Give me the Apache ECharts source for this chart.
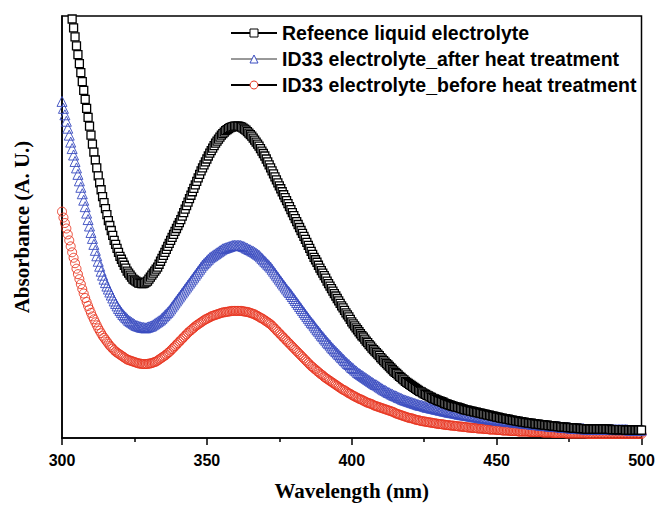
<!DOCTYPE html>
<html>
<head>
<meta charset="utf-8">
<script src="https://cdn.jsdelivr.net/npm/echarts@6/dist/echarts.min.js"></script>
<style>
  html, body { margin: 0; padding: 0; background: #fff; }
  #chart { width: 658px; height: 506px; }
</style>
</head>
<body>
<div id="chart"></div>
<script>
// UV-Vis absorption spectra, 300–500 nm sampled every 0.5 nm (arbitrary absorbance units)
const seriesNames = [
  'Refeence liquid electrolyte',
  'ID33 electrolyte_after heat treatment',
  'ID33 electrolyte_before heat treatment'
];
const xTickLabels = [300, 350, 400, 450, 500];

const wavelengths = [];
for (let i = 0; i <= 400; i++) wavelengths.push(300 + i * 0.5);

// one row = 5 nm (10 samples)
const reference = [
  486, 477, 468, 458, 449, 440, 431, 422, 413, 404,
  395, 386, 377, 368, 359, 350, 341, 332, 323, 314,
  305, 296, 288, 280, 272, 264, 257, 250, 243, 237,
  231, 225, 219, 214, 209, 204, 199, 195, 191, 187,
  183, 180, 177, 174, 171, 168, 166, 164, 162, 160,
  159, 158, 157, 156, 156, 155.5, 155.5, 156, 157, 158,
  160, 162, 164, 166, 168, 170, 172, 175, 178, 181,
  184, 187, 190, 193, 196, 199, 202, 205, 208, 211,
  214, 217, 220, 223.5, 227, 230.5, 234, 237.5, 241, 244.5,
  248, 251.5, 255, 258.5, 262, 265.5, 269, 272, 275, 278,
  281, 284, 287, 289.5, 292, 294.5, 297, 299, 301, 303,
  305, 306.5, 308, 309.5, 310.5, 311.5, 312.5, 313, 313.5, 314,
  314, 314, 314, 313.5, 313, 312, 311, 310, 308.5, 307,
  305.5, 304, 302, 300, 298, 296, 294, 291.5, 289, 286.5,
  284, 281, 278, 275, 272, 269, 266, 263, 260, 257,
  254, 251, 248, 245, 242, 239, 236, 233, 230, 227,
  224, 221, 218, 215, 212, 209, 206, 203, 200, 197,
  194, 191, 188, 185, 182, 179.5, 177, 174, 171, 168.5,
  166, 163.5, 161, 158, 155.5, 153, 150.5, 148, 145.5, 143,
  140.5, 138, 135.5, 133, 131, 128.5, 126, 124, 122, 119.5,
  117, 115, 113, 111, 109, 107, 105, 103, 101.5, 99.5,
  97.5, 96, 94, 92.5, 90.5, 89, 87.5, 86, 84.5, 83,
  81, 79.5, 78, 76.5, 75, 73.5, 72, 70.5, 69, 67.5,
  66, 65, 63.5, 62, 61, 59.5, 58.5, 57, 56, 55,
  54, 53, 52, 51, 50, 49, 48, 47, 46.5, 45.5,
  44.5, 44, 43, 42.5, 41.5, 41, 40, 39.5, 39, 38,
  37.5, 37, 36.5, 36, 35, 34.5, 34, 33.5, 33, 32.5,
  32, 31.5, 31, 31, 30.5, 30, 29.5, 29, 28.5, 28,
  28, 27.5, 27, 27, 26.5, 26, 26, 25.5, 25, 25,
  24.5, 24, 24, 23.5, 23, 23, 22.5, 22, 22, 21.5,
  21, 21, 20.5, 20, 20, 19.5, 19.5, 19, 19, 18.5,
  18, 18, 17.5, 17.5, 17, 17, 16.5, 16.5, 16, 16,
  15.5, 15.5, 15, 15, 15, 14.5, 14.5, 14, 14, 14,
  13.5, 13.5, 13.5, 13, 13, 13, 12.5, 12.5, 12.5, 12,
  12, 12, 11.5, 11.5, 11.5, 11, 11, 11, 11, 10.5,
  10.5, 10.5, 10.5, 10, 10, 10, 10, 9.5, 9.5, 9.5,
  9.5, 9.5, 9, 9, 9, 9, 9, 9, 9, 9,
  9, 9, 9, 9, 9, 9, 9, 9, 9, 8.5,
  8.5, 8.5, 8.5, 8.5, 8.5, 8.5, 8.5, 8.5, 8.5, 8,
  8, 8, 8, 8, 8, 8, 8, 8, 8, 8,
  8
];

const afterHeat = [
  339, 332, 325.5, 319, 312, 305, 298, 291.5, 285, 278.5,
  272, 265.5, 259, 252.5, 246, 239.5, 233, 226.5, 220, 213.5,
  207, 201, 195, 189, 183.5, 178, 173, 168, 164, 160,
  156.5, 153, 150, 147, 144, 141, 138, 135.5, 133, 130.5,
  128.5, 126.5, 124.5, 123, 121.5, 120, 118.5, 117.5, 116.5, 115.5,
  114.5, 113.5, 113, 112.5, 112, 111.5, 111.5, 111, 111, 111.5,
  112, 112.5, 113, 114, 115, 116, 117, 118, 119, 120.5,
  122, 123.5, 125, 126.5, 128, 130, 132, 134, 136, 138,
  140, 142, 144, 146, 148, 150, 152, 154, 156, 158,
  160, 162, 164, 166, 168, 170, 172, 174, 175.5, 177,
  178.5, 180, 181.5, 182.5, 183.5, 184.5, 185.5, 186.5, 187.5, 188.5,
  189.5, 190.5, 191, 191.5, 192, 192.5, 193, 193.5, 194, 194,
  194, 194, 194, 194, 193.5, 193, 192.5, 191.5, 191, 190,
  189.5, 188.5, 188, 187, 186, 185, 184, 182.5, 181, 179.5,
  178, 176.5, 175, 173.5, 172, 170, 168, 166, 164, 162,
  160, 158, 156, 154, 152, 150, 148, 146.5, 144.5, 142.5,
  140.5, 138.5, 136.5, 134.5, 132.5, 130.5, 128.5, 126.5, 124.5, 122.5,
  120.5, 118.5, 116.5, 115, 113, 111, 109, 107.5, 105.5, 103.5,
  102, 100, 98.5, 96.5, 95, 93.5, 91.5, 90, 88.5, 87,
  85.5, 84, 82.5, 81, 79.5, 78, 76.5, 75, 74, 72.5,
  71, 70, 68.5, 67.5, 66, 65, 64, 63, 62, 61,
  60, 59, 58, 57, 56, 55, 54, 53.5, 52.5, 51.5,
  50.5, 49.5, 48.5, 48, 47, 46, 45.5, 44.5, 44, 43,
  42.5, 42, 41, 40.5, 40, 39, 38.5, 38, 37.5, 37,
  36.5, 36, 35.5, 35, 34.5, 34, 33.5, 33, 33, 32.5,
  32, 31.5, 31, 31, 30.5, 30, 30, 29.5, 29, 29,
  28.5, 28, 28, 27.5, 27, 27, 26.5, 26, 26, 25.5,
  25.5, 25, 25, 24.5, 24, 24, 23.5, 23.5, 23, 23,
  22.5, 22.5, 22, 22, 21.5, 21.5, 21, 21, 20.5, 20.5,
  20, 20, 20, 19.5, 19.5, 19, 19, 19, 18.5, 18.5,
  18, 18, 18, 17.5, 17.5, 17.5, 17, 17, 17, 16.5,
  16.5, 16.5, 16, 16, 16, 15.5, 15.5, 15.5, 15, 15,
  15, 14.5, 14.5, 14.5, 14, 14, 14, 13.5, 13.5, 13.5,
  13, 13, 13, 12.5, 12.5, 12.5, 12, 12, 12, 12,
  11.5, 11.5, 11.5, 11.5, 11, 11, 11, 10.5, 10.5, 10.5,
  10.5, 10, 10, 10, 10, 10, 9.5, 9.5, 9.5, 9.5,
  9.5, 9, 9, 9, 9, 9, 9, 9, 9, 9,
  9, 9, 9, 9, 9, 9, 9, 9, 9, 9,
  8.5, 8.5, 8.5, 8.5, 8.5, 8.5, 8.5, 8.5, 8.5, 8.5,
  8.5, 8, 8, 8, 8, 8, 8, 8, 8, 8,
  8
];

const beforeHeat = [
  228, 222, 216.5, 211, 205, 199, 193, 187, 181.5, 176,
  170.5, 165, 160, 155, 150, 145.5, 141, 137, 133, 129.5,
  126, 122.5, 119.5, 116.5, 113.5, 110.5, 108, 105.5, 103, 101,
  99, 97, 95, 93, 91.5, 90, 88.5, 87, 86, 85,
  84, 83, 82, 81, 80, 79, 78.5, 78, 77.5, 77,
  76.5, 76, 75.5, 75, 75, 74.5, 74.5, 74.5, 74.5, 74.5,
  75, 75, 75.5, 76, 76.5, 77, 78, 79, 80, 81,
  82, 83, 84, 85.5, 86.5, 88, 89.5, 91, 92.5, 94,
  95.5, 97, 98.5, 100, 101.5, 103, 104.5, 106, 107.5, 108.5,
  110, 111, 112.5, 113.5, 114.5, 115.5, 116.5, 117.5, 118.5, 119.5,
  120, 121, 121.5, 122.5, 123, 123.5, 124, 124.5, 125, 125.5,
  126, 126.5, 126.5, 127, 127, 127.5, 127.5, 128, 128, 128,
  128, 128, 128, 128, 128, 127.5, 127.5, 127, 127, 126.5,
  126, 125.5, 125, 124.5, 123.5, 123, 122, 121, 120.5, 119.5,
  118.5, 117.5, 116.5, 115.5, 114.5, 113, 111.5, 110, 108.5, 107,
  105.5, 104, 102.5, 101, 99.5, 98, 96.5, 95, 93.5, 92,
  90.5, 89, 87.5, 86, 84.5, 83, 81.5, 80, 78.5, 77,
  75.5, 74, 72.5, 71.5, 70, 69, 67.5, 66.5, 65, 64,
  63, 61.5, 60.5, 59.5, 58.5, 57.5, 56.5, 55.5, 54.5, 53.5,
  52.5, 51.5, 50.5, 49.5, 48.5, 48, 47, 46, 45, 44.5,
  43.5, 42.5, 42, 41, 40.5, 39.5, 39, 38.5, 37.5, 37,
  36, 35.5, 35, 34.5, 34, 33, 32.5, 32, 31.5, 31,
  30.5, 30, 29.5, 29, 28.5, 28, 27.5, 27, 26.5, 26,
  25, 24.5, 24, 23.5, 23, 22.5, 22, 21.5, 21, 20.5,
  20, 20, 19.5, 19, 18.5, 18, 18, 17.5, 17, 17,
  16.5, 16.5, 16, 16, 15.5, 15.5, 15, 15, 14.5, 14.5,
  14, 14, 14, 13.5, 13.5, 13, 13, 13, 12.5, 12.5,
  12.5, 12, 12, 12, 11.5, 11.5, 11.5, 11, 11, 11,
  10.5, 10.5, 10.5, 10, 10, 10, 10, 9.5, 9.5, 9.5,
  9.5, 9, 9, 9, 9, 8.5, 8.5, 8.5, 8.5, 8.5,
  8, 8, 8, 8, 7.5, 7.5, 7.5, 7.5, 7.5, 7,
  7, 7, 7, 7, 7, 6.5, 6.5, 6.5, 6.5, 6.5,
  6.5, 6.5, 6.5, 6, 6, 6, 6, 6, 6, 6,
  6, 6, 5.5, 5.5, 5.5, 5.5, 5.5, 5.5, 5.5, 5,
  5, 5, 5, 5, 5, 5, 5, 5, 4.5, 4.5,
  4.5, 4.5, 4.5, 4.5, 4.5, 4.5, 4.5, 4.5, 4.5, 4.5,
  4.5, 4.5, 4.5, 4, 4, 4, 4, 4, 4, 4,
  4, 4, 4, 4, 4, 4, 4, 4, 4, 4,
  4, 4, 4, 4, 4, 4, 4, 4, 4, 4,
  4, 4, 4, 4, 4, 4, 4, 4, 4, 4,
  4
];

const pair = (values) => wavelengths.map((w, i) => [w, values[i]]);

const chart = echarts.init(document.getElementById('chart'), null, { renderer: 'svg' });

const sansBold = { fontFamily: '"Liberation Sans", Arial, sans-serif', fontWeight: 'bold' };
const titleFont = { fontFamily: '"Liberation Serif", "Times New Roman", serif', fontWeight: 'bold', fontSize: 21, color: '#000' };

const BLUE = '#3a4cc0';
const RED = '#e8341f';

chart.setOption({
  animation: false,
  backgroundColor: '#fff',
  grid: {
    left: 62, right: 16.5, top: 16, bottom: 64.5,
    show: true, borderColor: '#000', borderWidth: 1.5, backgroundColor: 'transparent'
  },
  legend: {
    orient: 'vertical',
    left: 225,
    top: 18,
    itemWidth: 46,
    itemHeight: 10,
    itemGap: 6,
    textStyle: Object.assign({ fontSize: 19.5, lineHeight: 20, color: '#000' }, sansBold),
    data: [
      { name: seriesNames[0], lineStyle: { color: '#000', width: 2, opacity: 1 }, itemStyle: { color: '#fff', borderColor: '#000', borderWidth: 1 } },
      { name: seriesNames[1], lineStyle: { color: '#333', width: 1, opacity: 1 }, itemStyle: { color: '#fff', borderColor: BLUE, borderWidth: 1 } },
      { name: seriesNames[2], lineStyle: { color: '#000', width: 2, opacity: 1 }, itemStyle: { color: '#fff', borderColor: RED, borderWidth: 1 } }
    ]
  },
  xAxis: {
    type: 'value',
    min: xTickLabels[0],
    max: xTickLabels[xTickLabels.length - 1],
    interval: xTickLabels[1] - xTickLabels[0],
    name: 'Wavelength (nm)',
    nameLocation: 'middle',
    nameGap: 42,
    nameTextStyle: titleFont,
    axisLine: { lineStyle: { color: '#000', width: 1.5 } },
    axisTick: { inside: false, length: 7, lineStyle: { color: '#000', width: 1.5 } },
    minorTick: { show: true, splitNumber: 2, length: 4, lineStyle: { color: '#000', width: 1.5 } },
    axisLabel: Object.assign({ fontSize: 16, color: '#000', margin: 14 }, sansBold),
    splitLine: { show: false }
  },
  yAxis: {
    type: 'value',
    min: 0,
    max: 425,
    name: 'Absorbance (A. U.)',
    nameLocation: 'middle',
    nameGap: 30,
    nameTextStyle: titleFont,
    axisLine: { show: true, lineStyle: { color: '#000', width: 1.5 } },
    axisTick: { show: false },
    axisLabel: { show: false },
    splitLine: { show: false }
  },
  series: [
    {
      name: seriesNames[2],
      type: 'line',
      data: pair(beforeHeat),
      symbol: 'circle',
      symbolSize: 9,
      showAllSymbol: true,
      lineStyle: { width: 0, opacity: 0 },
      itemStyle: { color: 'transparent', borderColor: RED, borderWidth: 0.9 },
      z: 2
    },
    {
      name: seriesNames[1],
      type: 'line',
      data: pair(afterHeat),
      symbol: 'triangle',
      symbolSize: 10,
      showAllSymbol: true,
      lineStyle: { width: 0, opacity: 0 },
      itemStyle: { color: 'transparent', borderColor: BLUE, borderWidth: 0.9 },
      z: 3
    },
    {
      name: seriesNames[0],
      type: 'line',
      data: pair(reference),
      symbol: 'rect',
      symbolSize: 8,
      showAllSymbol: true,
      lineStyle: { width: 0, opacity: 0 },
      itemStyle: { color: '#fff', borderColor: '#000', borderWidth: 1.3 },
      z: 4
    }
  ]
});
</script>
</body>
</html>
